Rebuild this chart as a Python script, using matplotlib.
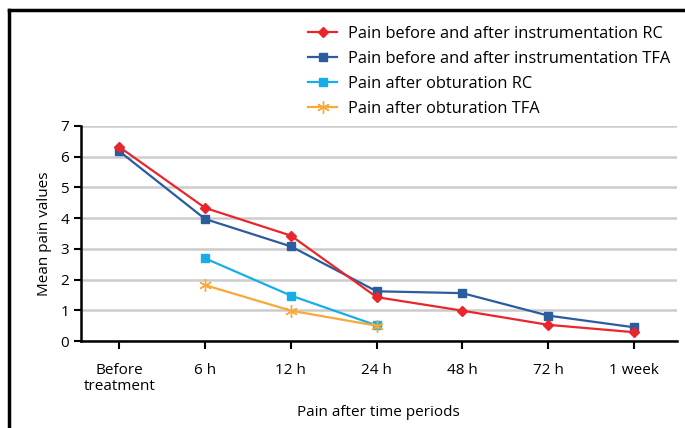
import matplotlib.pyplot as plt
from matplotlib.lines import Line2D

plt.rcParams['font.family'] = ['Open Sans', 'DejaVu Sans']

# data
periods = ['Before\ntreatment', '6 h', '12 h', '24 h', '48 h', '72 h', '1 week']
instr_rc = [6.31, 4.33, 3.43, 1.43, 0.99, 0.53, 0.29]
instr_tfa = [6.17, 3.97, 3.08, 1.62, 1.56, 0.83, 0.45]
obt_periods = [1, 2, 3]
obt_rc = [2.69, 1.48, 0.51]
obt_tfa = [1.82, 0.99, 0.50]

fig = plt.figure(figsize=(6.85, 4.28), dpi=100)
ax = fig.add_axes([0.118, 0.203, 0.87, 0.503])

x = range(len(periods))
ax.plot(x, instr_rc, color='#e8262b', lw=1.6, marker='D', ms=5.5,
        label='Pain before and after instrumentation RC', zorder=4)
ax.plot(x, instr_tfa, color='#2a5c9e', lw=1.6, marker='s', ms=6,
        label='Pain before and after instrumentation TFA', zorder=3)
ax.plot(obt_periods, obt_rc, color='#17aee8', lw=1.6, marker='s', ms=6,
        label='Pain after obturation RC', zorder=3)
ax.plot(obt_periods, obt_tfa, color='#f9a83a', lw=1.6, marker=(6, 2, 0), ms=9,
        mew=1.0, label='Pain after obturation TFA', zorder=3)

ax.set_xlim(-0.45, 6.5)
ax.set_ylim(0, 7)
ax.set_yticks(range(8))
ax.set_xticks(list(x))
ax.set_xticklabels(periods, fontsize=11, linespacing=1.05)
ax.tick_params(axis='y', labelsize=11, length=5, width=1.5)
ax.tick_params(axis='x', length=6, width=1.5, pad=10)
ax.grid(axis='y', color='#cccccc', lw=1.8)
ax.set_axisbelow(True)
for s in ['top', 'right']:
    ax.spines[s].set_visible(False)
for s in ['left', 'bottom']:
    ax.spines[s].set_linewidth(1.8)

ax.set_ylabel('Mean pain values', fontsize=11, labelpad=6)
ax.set_xlabel('Pain after time periods', fontsize=11, labelpad=8)

fig.legend(loc='upper right', bbox_to_anchor=(1.0, 0.974), frameon=False,
           fontsize=11.8, handlelength=1.8, handletextpad=0.65,
           labelspacing=0.55)

# page border (top and left)
fig.add_artist(Line2D([0.013, 1.0], [0.976, 0.976], color='black', lw=2.5,
                      transform=fig.transFigure))
fig.add_artist(Line2D([0.013, 0.013], [0.0, 0.976], color='black', lw=2.5,
                      transform=fig.transFigure))

fig.savefig('out.png', dpi=100)
